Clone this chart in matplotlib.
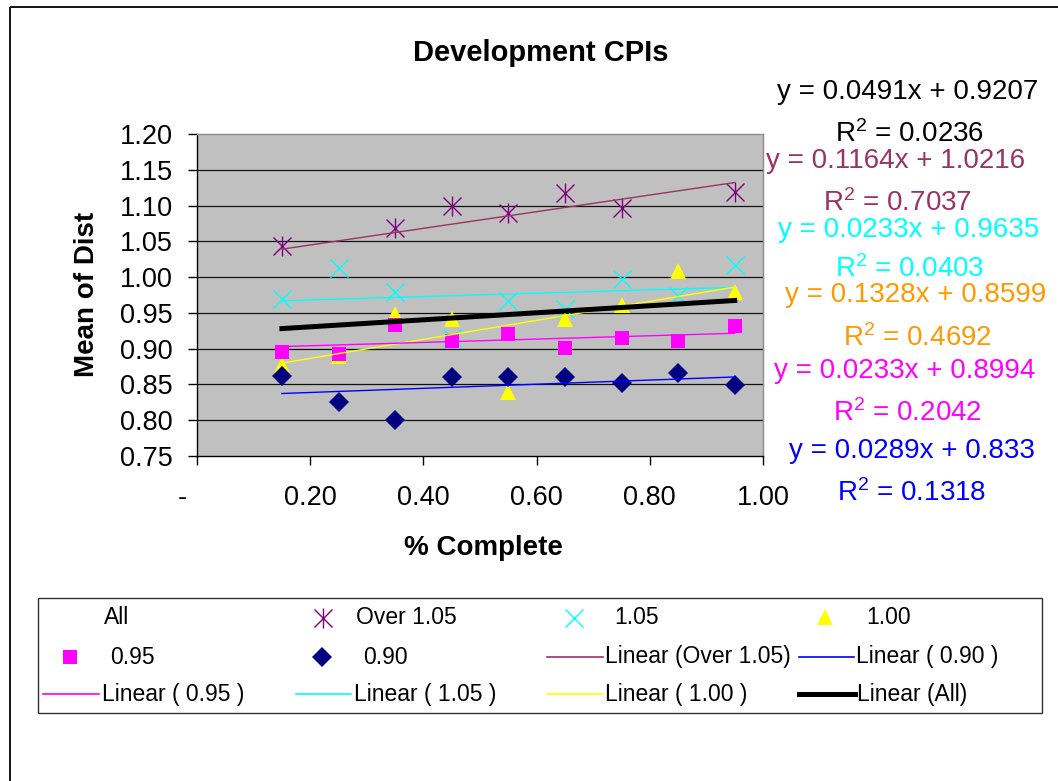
import numpy as np
import matplotlib
matplotlib.use("Agg")
import matplotlib.pyplot as plt
from matplotlib.patches import Rectangle

plt.rcParams["font.family"] = ["Liberation Sans", "DejaVu Sans"]
plt.rcParams["mathtext.default"] = "regular"

# ---- data -------------------------------------------------------------
pct_complete = [0.15, 0.25, 0.35, 0.45, 0.55, 0.65, 0.75, 0.85, 0.95]

over_105 = [1.044, np.nan, 1.069, 1.099, 1.089, 1.117, 1.096, np.nan, 1.119]
cpi_105 = [0.970, 1.013, 0.979, 0.915, 0.966, 0.956, 0.998, 0.973, 1.017]
cpi_100 = [0.877, 0.890, 0.949, 0.942, 0.840, 0.942, 0.961, 1.008, 0.979]
cpi_095 = [0.896, 0.893, 0.933, 0.911, 0.921, 0.901, 0.915, 0.911, 0.931]
cpi_090 = [0.862, 0.825, 0.800, 0.860, 0.860, 0.860, 0.852, 0.866, 0.849]

# linear trend fits: (slope, intercept, R^2)
fit_all = (0.0491, 0.9207, 0.0236)
fit_over_105 = (0.1164, 1.0216, 0.7037)
fit_105 = (0.0233, 0.9635, 0.0403)
fit_100 = (0.1328, 0.8599, 0.4692)
fit_095 = (0.0233, 0.8994, 0.2042)
fit_090 = (0.0289, 0.833, 0.1318)
trend_range = [0.15, 0.95]

y_ticks = [0.75, 0.80, 0.85, 0.90, 0.95, 1.00, 1.05, 1.10, 1.15, 1.20]
x_ticks = [0.0, 0.2, 0.4, 0.6, 0.8, 1.0]
x_tick_labels = ["-", "0.20", "0.40", "0.60", "0.80", "1.00"]

# ---- colours ----------------------------------------------------------
C_OVER = "#800080"
C_OVER_LINE = "#993366"
C_105 = "#00FFFF"
C_100 = "#FFFF00"
C_100_TXT = "#FF9900"
C_095 = "#FF00FF"
C_090 = "#000080"
C_090_LINE = "#0000FF"

# marker sizes (points)
MS_STAR_X, MS_STAR_V = 13.5, 14
MS_X = 13.5
MS_TRI = 12
MS_SQ = 10.5
MS_DIA = 10

W, H = 1058, 781
fig = plt.figure(figsize=(W / 100, H / 100), dpi=100)

# overlay in pixel coordinates for chart frame, legend and fit labels
ov = fig.add_axes([0, 0, 1, 1], zorder=0)
ov.set_xlim(0, W)
ov.set_ylim(H, 0)
ov.axis("off")

AX_L, AX_R, AX_T, AX_B = 197, 763, 134, 456
ax = fig.add_axes([AX_L / W, 1 - AX_B / H, (AX_R - AX_L) / W, (AX_B - AX_T) / H], zorder=1)
ax.set_facecolor("#C0C0C0")
ax.set_xlim(0, 1)
ax.set_ylim(0.75, 1.20)

for v in y_ticks[1:-1]:
    ax.axhline(v, color="#111111", lw=0.9, zorder=1)

for side in ("top", "right"):
    ax.spines[side].set_color("#8C8C8C")
    ax.spines[side].set_linewidth(1.0)
for side in ("left", "bottom"):
    ax.spines[side].set_color("black")
    ax.spines[side].set_linewidth(1.0)

ax.set_yticks(y_ticks)
ax.set_yticklabels([f"{v:.2f}" for v in y_ticks], fontsize=19.5)
ax.tick_params(axis="y", direction="out", length=6.5, width=1, pad=11)
ax.set_xticks(x_ticks)
ax.set_xticklabels([])
ax.tick_params(axis="x", direction="out", length=6.5, width=1)

# x tick labels; the zero label "-" is pushed a little to the left
for xv, lab in zip(x_ticks, x_tick_labels):
    px = AX_L + xv * (AX_R - AX_L)
    if lab == "-":
        px -= 15
    ov.text(px, 498, lab, ha="center", va="center", fontsize=19.5)

x = np.array(pct_complete)
tx = np.array(trend_range)


def trend(fit):
    return fit[0] * tx + fit[1]


def star(axes, xs, ys, z=5):
    axes.plot(xs, ys, ls="none", marker="x", ms=MS_STAR_X, mew=1.0, color=C_OVER, zorder=z)
    axes.plot(xs, ys, ls="none", marker="|", ms=MS_STAR_V, mew=1.0, color=C_OVER, zorder=z)


# markers
star(ax, x, over_105)
ax.plot(x, cpi_105, ls="none", marker="x", ms=MS_X, mew=1.0, color=C_105, zorder=5)
ax.plot(x, cpi_100, ls="none", marker="^", ms=MS_TRI, mew=0, color=C_100, zorder=6)
ax.plot(x, cpi_095, ls="none", marker="s", ms=MS_SQ, mew=0, color=C_095, zorder=7)
ax.plot(x, cpi_090, ls="none", marker="D", ms=MS_DIA, mew=0, color=C_090, zorder=8)

# trend lines on top of the markers
ax.plot(tx, trend(fit_over_105), color=C_OVER_LINE, lw=1.0, zorder=9)
ax.plot(tx, trend(fit_105), color=C_105, lw=1.0, zorder=9)
ax.plot(tx, trend(fit_100), color=C_100, lw=1.0, zorder=9)
ax.plot(tx, trend(fit_095), color=C_095, lw=1.0, zorder=9)
ax.plot(tx, trend(fit_090), color=C_090_LINE, lw=1.0, zorder=9)
ax.plot(tx, trend(fit_all), color="black", lw=3.6, zorder=10)

# titles
fig.text(541 / W, 1 - 53 / H, "Development CPIs", ha="center", va="center",
         fontsize=21, fontweight="bold")
ov.text(483, 548, "% Complete", ha="center", va="center", fontsize=20, fontweight="bold")
ov.text(87, 294, "Mean of Dist", ha="center", va="center", rotation=90,
        fontsize=20, fontweight="bold")

# fit equations
fits = [
    (fit_all, "black", 908, 99, 910, 142),
    (fit_over_105, C_OVER_LINE, 896, 168, 897, 211),
    (fit_105, C_105, 909, 237, 910, 277),
    (fit_100, C_100_TXT, 916, 302, 917, 346),
    (fit_095, C_095, 905, 378, 907, 421),
    (fit_090, C_090_LINE, 912, 458, 912, 501),
]
for fit, col, ex, ey, rx, ry in fits:
    slope, icpt, r2 = fit
    ov.text(ex, ey, f"y = {slope:g}x + {icpt:g}", ha="center", va="baseline",
            fontsize=20, color=col)
    ov.text(rx, ry, f"R$^{{2}}$ = {r2:.4f}", ha="center", va="baseline",
            fontsize=20, color=col)

# chart frame
ov.add_patch(Rectangle((10, 7), 1200, 900, fill=False, ec="black", lw=1.3))

# legend
ov.add_patch(Rectangle((38, 598), 1004, 115, fill=False, ec="#333333", lw=1.0))
LF = 16.5
r1, r2_, r3 = 618, 657, 694


def leg_text(px, py, s):
    ov.text(px, py, s, ha="left", va="center", fontsize=LF)


leg_text(104, r1, "All")
star(ov, [323], [r1])
leg_text(356, r1, "Over 1.05")
ov.plot([574], [r1], ls="none", marker="x", ms=MS_X, mew=1.0, color=C_105)
leg_text(614, r1, "1.05")
ov.plot([825], [r1 - 1], ls="none", marker="^", ms=MS_TRI, mew=0, color=C_100)
leg_text(866, r1, "1.00")

ov.plot([70], [r2_], ls="none", marker="s", ms=MS_SQ, mew=0, color=C_095)
leg_text(110, r2_, "0.95")
ov.plot([322], [r2_], ls="none", marker="D", ms=MS_DIA, mew=0, color=C_090)
leg_text(363, r2_, "0.90")
ov.plot([547, 603], [r2_, r2_], color=C_OVER_LINE, lw=1.2)
leg_text(605, r2_, "Linear (Over 1.05)")
ov.plot([799, 854], [r2_, r2_], color=C_090_LINE, lw=1.2)
leg_text(856, r2_, "Linear ( 0.90 )")

ov.plot([43, 99], [r3, r3], color=C_095, lw=1.2)
leg_text(102, r3, "Linear ( 0.95 )")
ov.plot([296, 351], [r3, r3], color=C_105, lw=1.2)
leg_text(354, r3, "Linear ( 1.05 )")
ov.plot([547, 603], [r3, r3], color=C_100, lw=1.2)
leg_text(605, r3, "Linear ( 1.00 )")
ov.plot([799, 855], [r3, r3], color="black", lw=3.6)
leg_text(857, r3, "Linear (All)")

fig.savefig("out.png", dpi=100)
